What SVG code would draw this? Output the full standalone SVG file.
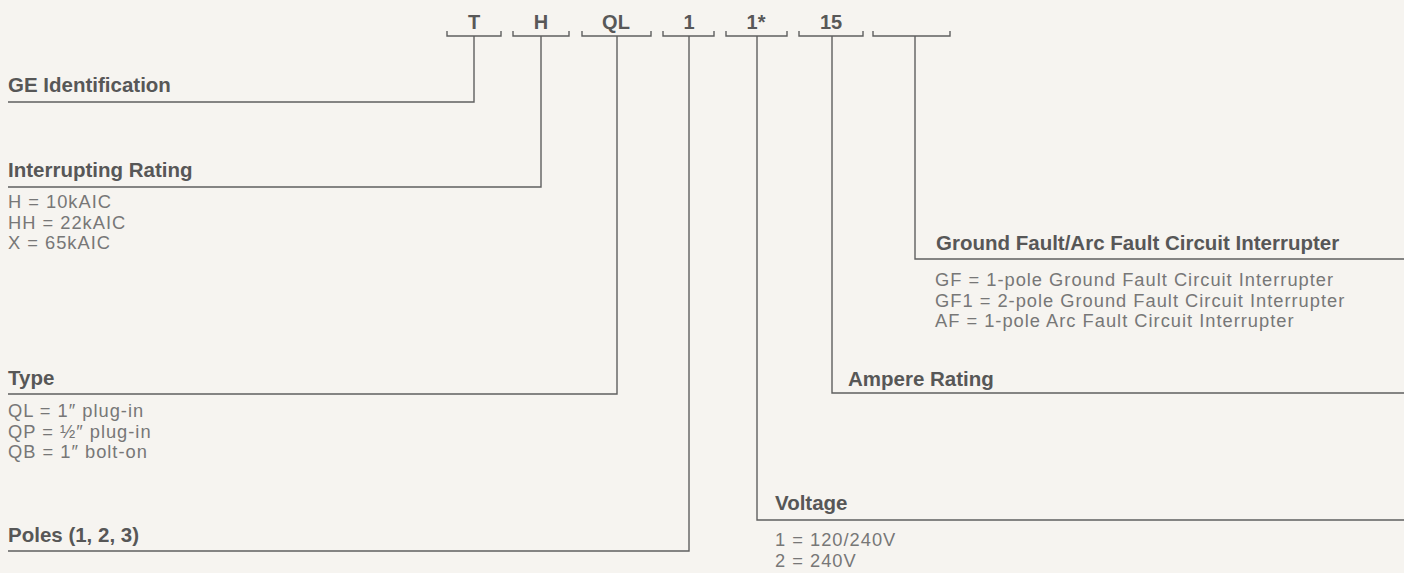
<svg xmlns="http://www.w3.org/2000/svg" width="1404" height="573" viewBox="0 0 1404 573">
<style>
.bg{fill:#f6f4f0}
.br{fill:none;stroke:#5f5f5f;stroke-width:1.4}
.cn{fill:none;stroke:#5f5f5f;stroke-width:1.4}
.code{font-family:"Liberation Sans",Arial,sans-serif;font-weight:bold;font-size:20px;fill:#585858;text-anchor:middle}
.hd{font-family:"Liberation Sans",Arial,sans-serif;font-weight:bold;font-size:20.5px;fill:#575757}
.it{font-family:"Liberation Sans",Arial,sans-serif;font-size:18.3px;fill:#777;letter-spacing:1px}
</style>
<rect class="bg" x="0" y="0" width="1404" height="573"/>

<g id="code-T"><path class="br" d="M447,31 V36 H501 V31"/><text class="code" x="474" y="29">T</text></g>
<g id="code-H"><path class="br" d="M513,31 V36 H569 V31"/><text class="code" x="541" y="29">H</text></g>
<g id="code-QL"><path class="br" d="M582,31 V36 H651 V31"/><text class="code" x="616" y="29">QL</text></g>
<g id="code-1"><path class="br" d="M663,31 V36 H714 V31"/><text class="code" x="689" y="29">1</text></g>
<g id="code-1star"><path class="br" d="M726,31 V36 H787 V31"/><text class="code" x="756" y="29">1*</text></g>
<g id="code-15"><path class="br" d="M799,31 V36 H863 V31"/><text class="code" x="831" y="29">15</text></g>
<g id="code-blank"><path class="br" d="M873,31 V36 H950 V31"/></g>

<g id="connectors">
<path class="cn" d="M474,36 V102 H8"/>
<path class="cn" d="M541,36 V187 H8"/>
<path class="cn" d="M617,36 V394 H8"/>
<path class="cn" d="M689,36 V551 H8"/>
<path class="cn" d="M757,36 V520 H1404"/>
<path class="cn" d="M832,36 V393 H1404"/>
<path class="cn" d="M915,36 V259 H1404"/>
</g>

<g id="label-ge"><text class="hd" x="8" y="92">GE Identification</text></g>
<g id="label-interrupting">
<text class="hd" x="8" y="177">Interrupting Rating</text>
<text class="it" x="8" y="208">H = 10kAIC</text>
<text class="it" x="8" y="228.5">HH = 22kAIC</text>
<text class="it" x="8" y="249">X = 65kAIC</text>
</g>
<g id="label-type">
<text class="hd" x="8" y="385">Type</text>
<text class="it" x="8" y="417">QL = 1″ plug-in</text>
<text class="it" x="8" y="437.5">QP = ½″ plug-in</text>
<text class="it" x="8" y="458">QB = 1″ bolt-on</text>
</g>
<g id="label-poles"><text class="hd" x="8" y="542">Poles (1, 2, 3)</text></g>
<g id="label-voltage">
<text class="hd" x="775" y="510">Voltage</text>
<text class="it" x="775" y="546">1 = 120/240V</text>
<text class="it" x="775" y="566.5">2 = 240V</text>
</g>
<g id="label-ampere"><text class="hd" x="848" y="386">Ampere Rating</text></g>
<g id="label-gfci">
<text class="hd" x="936" y="250">Ground Fault/Arc Fault Circuit Interrupter</text>
<text class="it" x="935" y="286">GF = 1-pole Ground Fault Circuit Interrupter</text>
<text class="it" x="935" y="306.5">GF1 = 2-pole Ground Fault Circuit Interrupter</text>
<text class="it" x="935" y="327">AF = 1-pole Arc Fault Circuit Interrupter</text>
</g>
</svg>
